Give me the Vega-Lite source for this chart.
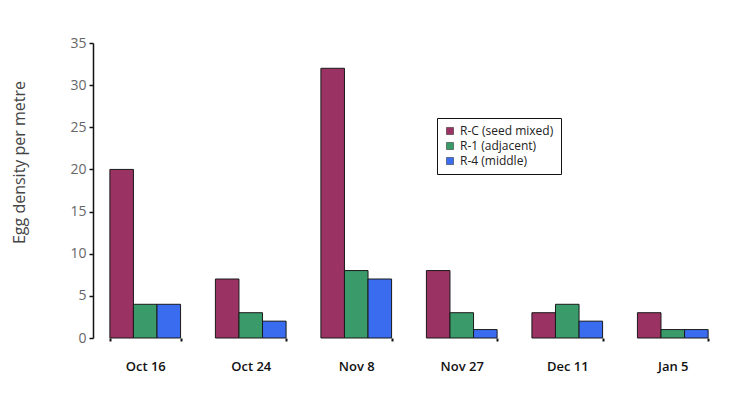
{
  "$schema": "https://vega.github.io/schema/vega-lite/v6.json",
  "width": 632,
  "height": 295,
  "autosize": "none",
  "padding": {"left": 93, "top": 43, "right": 13, "bottom": 56},
  "background": "white",
  "config": {"view": {"stroke": null}, "font": "Open Sans"},
  "data": {
    "values": [
      {"date": "Oct 16", "series": "R-C (seed mixed)", "density": 20},
      {"date": "Oct 16", "series": "R-1 (adjacent)", "density": 4},
      {"date": "Oct 16", "series": "R-4 (middle)", "density": 4},
      {"date": "Oct 24", "series": "R-C (seed mixed)", "density": 7},
      {"date": "Oct 24", "series": "R-1 (adjacent)", "density": 3},
      {"date": "Oct 24", "series": "R-4 (middle)", "density": 2},
      {"date": "Nov 8", "series": "R-C (seed mixed)", "density": 32},
      {"date": "Nov 8", "series": "R-1 (adjacent)", "density": 8},
      {"date": "Nov 8", "series": "R-4 (middle)", "density": 7},
      {"date": "Nov 27", "series": "R-C (seed mixed)", "density": 8},
      {"date": "Nov 27", "series": "R-1 (adjacent)", "density": 3},
      {"date": "Nov 27", "series": "R-4 (middle)", "density": 1},
      {"date": "Dec 11", "series": "R-C (seed mixed)", "density": 3},
      {"date": "Dec 11", "series": "R-1 (adjacent)", "density": 4},
      {"date": "Dec 11", "series": "R-4 (middle)", "density": 2},
      {"date": "Jan 5", "series": "R-C (seed mixed)", "density": 3},
      {"date": "Jan 5", "series": "R-1 (adjacent)", "density": 1},
      {"date": "Jan 5", "series": "R-4 (middle)", "density": 1}
    ]
  },
  "mark": {"type": "bar", "stroke": "#1a1a1a", "strokeWidth": 1},
  "encoding": {
    "x": {
      "field": "date",
      "type": "nominal",
      "sort": ["Oct 16", "Oct 24", "Nov 8", "Nov 27", "Dec 11", "Jan 5"],
      "scale": {"paddingInner": 0.33, "paddingOuter": 0.16},
      "axis": {
        "title": null,
        "domain": false,
        "labelAngle": 0,
        "tickBand": "extent",
        "tickSize": 3,
        "tickWidth": 2,
        "tickColor": "#111",
        "labelPadding": 19,
        "labelFontSize": 13,
        "labelFontWeight": 600,
        "labelColor": "#111"
      }
    },
    "xOffset": {
      "field": "series",
      "type": "nominal",
      "sort": ["R-C (seed mixed)", "R-1 (adjacent)", "R-4 (middle)"],
      "scale": {"paddingInner": 0, "paddingOuter": 0}
    },
    "y": {
      "field": "density",
      "type": "quantitative",
      "scale": {"domain": [0, 35], "nice": false},
      "axis": {
        "title": "Egg density per metre",
        "titleFontSize": 16,
        "titleFontWeight": "normal",
        "titleColor": "#444",
        "titleX": -66,
        "titleY": 119,
        "values": [0, 5, 10, 15, 20, 25, 30, 35],
        "grid": false,
        "domainColor": "#111",
        "domainWidth": 1.5,
        "tickColor": "#111",
        "tickSize": 4,
        "tickWidth": 1.5,
        "labelPadding": 3,
        "labelFontSize": 14,
        "labelColor": "#666"
      }
    },
    "color": {
      "field": "series",
      "type": "nominal",
      "sort": ["R-C (seed mixed)", "R-1 (adjacent)", "R-4 (middle)"],
      "scale": {"range": ["#9a3263", "#3a9a6a", "#3a6cf0"]},
      "legend": {
        "title": null,
        "orient": "none",
        "legendX": 344,
        "legendY": 75,
        "symbolType": "square",
        "symbolSize": 50,
        "symbolStrokeColor": "#222",
        "symbolStrokeWidth": 0.5,
        "labelFontSize": 12,
        "labelColor": "#222",
        "rowPadding": 3,
        "padding": 7,
        "strokeColor": "#111"
      }
    }
  }
}
